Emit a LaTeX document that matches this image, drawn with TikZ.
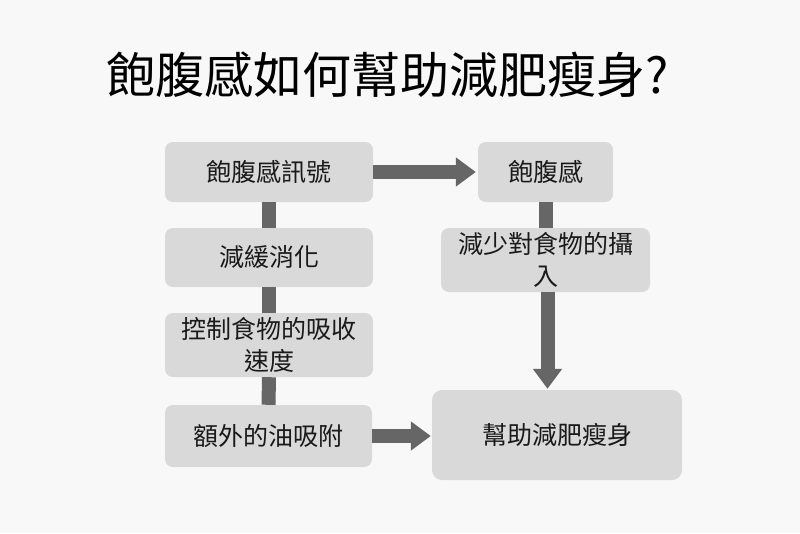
\documentclass[tikz,border=0pt]{standalone}
\usepackage{fontspec}
\newfontfamily\cjk{Noto Sans CJK TC}
\usetikzlibrary{arrows.meta}
\definecolor{bg}{HTML}{F8F8F8}
\definecolor{boxfill}{HTML}{D9D9D9}
\definecolor{conncol}{HTML}{666666}
\definecolor{txt}{HTML}{1A1A1A}
\tikzset{
  box/.style={fill=boxfill, rounded corners=8pt, align=center, inner sep=0pt,
    font=\cjk\fontsize{25}{32}\selectfont, text=txt},
  conn/.style={draw=conncol, line width=14pt},
  arr/.style={conn, -{Triangle[width=28pt,length=20pt]}}
}
\begin{document}
\begin{tikzpicture}[x=1pt,y=-1pt]
\useasboundingbox (0,0) rectangle (800,533);
\fill[bg] (0,0) rectangle (800,533);
\node[font=\cjk\fontsize{49}{54}\selectfont, text=black] (title) at (388,75) {飽腹感如何幫助減肥瘦身?};
\node[box, minimum width=208pt, minimum height=60pt] (A) at (269,172) {飽腹感訊號};
\node[box, minimum width=208pt, minimum height=59pt] (B) at (269,257.5) {減緩消化};
\node[box, minimum width=208pt, minimum height=64pt] (C) at (269,345) {控制食物的吸收\\速度};
\node[box, minimum width=207pt, minimum height=62pt] (D) at (268.5,436) {額外的油吸附};
\node[box, minimum width=135pt, minimum height=60pt] (E) at (545.5,172) {飽腹感};
\node[box, minimum width=209pt, minimum height=64pt] (F) at (545.5,260) {減少對食物的攝\\入};
\node[box, minimum width=250pt, minimum height=90pt, rounded corners=10pt] (G) at (557,435) {幫助減肥瘦身};
\draw[conn] (A.south) -- (B.north);
\draw[conn] (B.south) -- (C.north);
\draw[conn] (C.south) -- (D.north);
\draw[arr, shorten >=2pt] (A.east) -- (E.west);
\draw[conn] (E.south) -- (F.north);
\draw[arr, shorten >=1pt] ([xshift=2pt]F.south) -- ([xshift=2pt]F.south |- G.north);
\draw[arr, shorten >=1pt] (D.east) -- (D.east -| G.west);
\end{tikzpicture}
\end{document}
